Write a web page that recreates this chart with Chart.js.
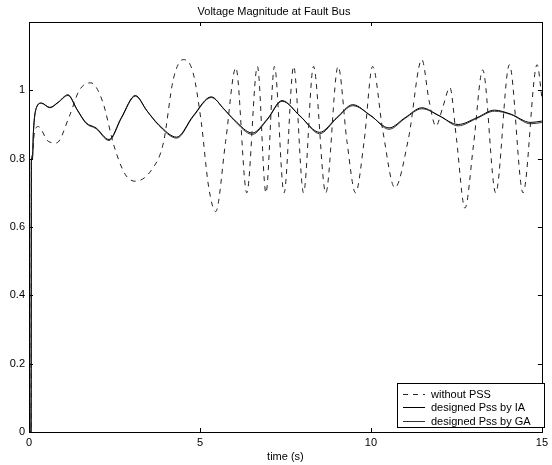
<!DOCTYPE html>
<html>
<head>
<meta charset="utf-8">
<script src="https://cdn.jsdelivr.net/npm/chart.js@4/dist/chart.umd.min.js"></script>
<style>
  body { margin: 0; background: #fff; }
  #wrap { width: 552px; height: 465px; }
</style>
</head>
<body>
<div id="wrap"><canvas id="voltChart"></canvas></div>
<script>
// time axis and values
const tSolid = [0, 0.02, 0.06, 0.07, 0.1, 0.13, 0.22, 0.36, 0.61, 0.85, 1.14, 1.4, 1.67, 1.96, 2.34, 2.7,
    3.11, 3.45, 3.79, 4.32, 4.8, 5.33, 5.7, 6.0, 6.53, 6.97, 7.4, 7.93, 8.5, 9.0, 9.47, 10.0,
    10.53, 11.0, 11.49, 12.0, 12.55, 13.1, 13.61, 14.1, 14.67, 15];
const vIA = [0.95, 0, 0, 0.8, 0.8, 0.88, 0.95, 0.963, 0.95, 0.965, 0.987, 0.945, 0.905, 0.89, 0.856, 0.92,
    0.985, 0.94, 0.9, 0.863, 0.925, 0.981, 0.945, 0.914, 0.875, 0.916, 0.97, 0.924, 0.877, 0.92, 0.958, 0.925,
    0.89, 0.92, 0.949, 0.925, 0.9, 0.92, 0.942, 0.93, 0.906, 0.91];
const vGA = [0.95, 0, 0, 0.8, 0.8, 0.88, 0.95, 0.962, 0.949, 0.964, 0.985, 0.944, 0.903, 0.888, 0.853, 0.918,
    0.983, 0.94, 0.898, 0.86, 0.923, 0.979, 0.946, 0.912, 0.871, 0.914, 0.968, 0.925, 0.873, 0.918, 0.955, 0.926,
    0.886, 0.918, 0.946, 0.926, 0.896, 0.918, 0.939, 0.929, 0.902, 0.906];

const tDash = [0, 0.02, 0.06, 0.07, 0.1, 0.15, 0.27, 0.56, 0.8, 1.18, 1.47, 1.81, 2.15, 2.49, 2.82, 3.11,
    3.59, 3.93, 4.22, 4.51, 4.8, 5.04, 5.25, 5.46, 5.75, 6.05, 6.37, 6.68, 6.93, 7.18, 7.46, 7.74,
    8.03, 8.32, 8.68, 9.04, 9.3, 9.55, 9.8, 10.05, 10.35, 10.7, 11.1, 11.49, 11.7, 11.9, 12.1, 12.31,
    12.5, 12.75, 13.0, 13.27, 13.65, 14.05, 14.45, 14.86, 15];
const vNoPss = [0.95, 0, 0, 0.8, 0.81, 0.87, 0.894, 0.851, 0.846, 0.924, 1.0, 1.022, 0.968, 0.836, 0.753, 0.734,
    0.768, 0.846, 1.032, 1.09, 1.051, 0.905, 0.72, 0.645, 0.85, 1.066, 0.7, 1.07, 0.7, 1.07, 0.7, 1.07,
    0.7, 1.07, 0.7, 1.07, 0.85, 0.7, 0.85, 1.07, 0.88, 0.715, 0.86, 1.09, 0.97, 0.895, 0.95, 1.008,
    0.86, 0.655, 0.84, 1.06, 0.7, 1.075, 0.7, 1.075, 0.98];

const seriesNames = ['without PSS', 'designed Pss by IA', 'designed Pss by GA'];
const xTicks = [0, 5, 10, 15];
const yTicks = [0, 0.2, 0.4, 0.6, 0.8, 1];

const toPoints = (ts, vs) => ts.map((t, i) => ({ x: t, y: vs[i] }));

// MATLAB-like frame with inward ticks, plus the boxed legend in the corner
const framePlugin = {
    id: 'frame',
    afterDraw(chart) {
        const { ctx, chartArea: a, scales } = chart;
        ctx.save();
        ctx.strokeStyle = '#000';
        ctx.lineWidth = 1;
        ctx.strokeRect(Math.round(a.left) + 0.5, Math.round(a.top) + 0.5,
            Math.round(a.right - a.left), Math.round(a.bottom - a.top));
        ctx.beginPath();
        xTicks.forEach(v => {
            const px = Math.round(scales.x.getPixelForValue(v)) + 0.5;
            ctx.moveTo(px, a.bottom); ctx.lineTo(px, a.bottom - 4);
            ctx.moveTo(px, a.top); ctx.lineTo(px, a.top + 4);
        });
        yTicks.forEach(v => {
            const py = Math.round(scales.y.getPixelForValue(v)) + 0.5;
            ctx.moveTo(a.left, py); ctx.lineTo(a.left + 4, py);
            ctx.moveTo(a.right, py); ctx.lineTo(a.right - 4, py);
        });
        ctx.stroke();

        // legend
        const bx = 397.5, by = 383.5, bw = 147, bh = 44;
        ctx.fillStyle = '#fff';
        ctx.fillRect(bx, by, bw, bh);
        ctx.strokeRect(bx, by, bw, bh);
        ctx.font = '11px "Liberation Sans", Arial, sans-serif';
        ctx.textBaseline = 'middle';
        ctx.textAlign = 'left';
        chart.data.datasets.forEach((ds, i) => {
            const y = Math.round(by + 10 + i * 13.5) + 0.5;
            ctx.beginPath();
            ctx.strokeStyle = ds.borderColor;
            ctx.setLineDash(ds.borderDash || []);
            ctx.moveTo(403, y); ctx.lineTo(425, y);
            ctx.stroke();
            ctx.setLineDash([]);
            ctx.fillStyle = '#000';
            ctx.fillText(ds.label, 431, y);
        });
        ctx.restore();
    }
};

const ctx = document.getElementById('voltChart').getContext('2d');
Chart.defaults.font.family = '"Liberation Sans", Arial, sans-serif';
Chart.defaults.font.size = 11;
Chart.defaults.color = '#000';

new Chart(ctx, {
    type: 'line',
    data: {
        datasets: [
            {
                label: seriesNames[0],
                data: toPoints(tDash, vNoPss),
                borderColor: '#222',
                borderWidth: 1,
                borderDash: [5, 5],
                pointRadius: 0,
                cubicInterpolationMode: 'monotone'
            },
            {
                label: seriesNames[1],
                data: toPoints(tSolid, vIA),
                borderColor: '#000',
                borderWidth: 1,
                pointRadius: 0,
                cubicInterpolationMode: 'monotone'
            },
            {
                label: seriesNames[2],
                data: toPoints(tSolid, vGA),
                borderColor: '#333',
                borderWidth: 1,
                pointRadius: 0,
                cubicInterpolationMode: 'monotone'
            }
        ]
    },
    options: {
        responsive: true,
        maintainAspectRatio: false,
        animation: false,
        layout: { padding: { left: 0, right: 4, top: 0, bottom: 0 } },
        plugins: {
            legend: { display: false },
            tooltip: { enabled: false },
            title: {
                display: true,
                text: 'Voltage Magnitude at Fault Bus',
                font: { size: 11, weight: 'normal' },
                color: '#000',
                padding: { top: 5.5, bottom: 3.3 }
            }
        },
        scales: {
            x: {
                type: 'linear',
                min: 0,
                max: 15,
                grid: { display: false, drawTicks: false },
                border: { display: false },
                afterBuildTicks: s => { s.ticks = xTicks.map(v => ({ value: v })); },
                ticks: { padding: 4, maxRotation: 0 },
                title: { display: true, text: 'time (s)', padding: { top: 0, bottom: 1 } },
                afterFit: s => { s.height = 33; }
            },
            y: {
                min: 0,
                max: 1.2,
                grid: { display: false, drawTicks: false },
                border: { display: false },
                afterBuildTicks: s => { s.ticks = yTicks.map(v => ({ value: v })); },
                ticks: { padding: 4, callback: v => String(Math.round(v * 10) / 10) },
                afterFit: s => { s.width = 29; }
            }
        }
    },
    plugins: [framePlugin]
});
</script>
</body>
</html>
